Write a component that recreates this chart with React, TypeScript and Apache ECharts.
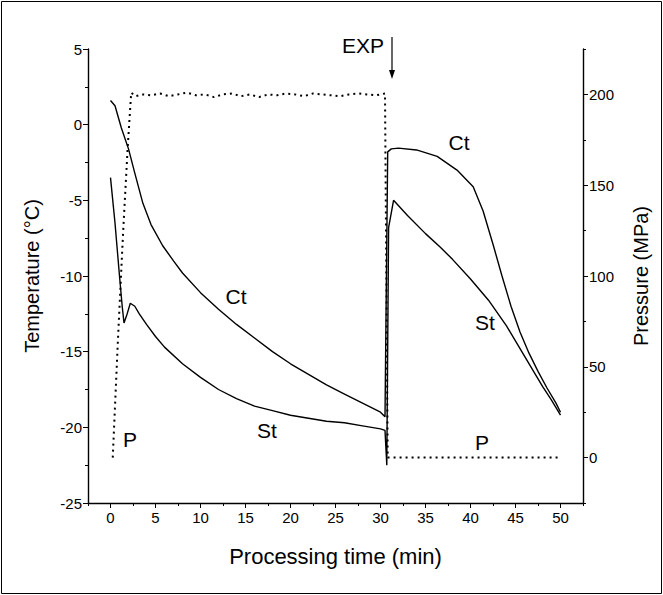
import React, { useEffect, useRef } from "react";
import * as echarts from "echarts";

const xTickValues = [0, 5, 10, 15, 20, 25, 30, 35, 40, 45, 50];
const pressureTickValues = [0, 50, 100, 150, 200];

const ctTime = [0, 0.5, 1.2, 2.0, 2.7, 3.6, 4.5, 5.8, 7, 8, 10, 12, 14, 16, 18, 20, 22, 24, 26, 28, 30, 30.5,
  30.8, 31.2, 32, 34, 36.3, 38.5, 40.3, 41.4, 42.5, 43.5, 44.5, 45.5, 46.5, 47.5, 48.5, 49.5, 50];
const ctTemp = [1.6, 1.25, -0.2, -1.6, -3.2, -5.2, -6.6, -8.0, -9.0, -9.8, -11.1, -12.2, -13.2, -14.1, -15.0, -15.8, -16.5, -17.2, -17.8, -18.4, -19.0, -19.3,
  -1.8, -1.6, -1.55, -1.67, -2.1, -3.0, -4.1, -5.7, -7.9, -10.0, -12.0, -13.7, -15.1, -16.3, -17.4, -18.4, -19.0];

const stTime = [0, 0.5, 1.0, 1.3, 1.5, 1.8, 2.2, 2.7, 3.2, 4, 5, 6, 8, 10, 12, 14, 16, 18, 20, 22, 24, 26, 28, 30, 30.5,
  30.7, 30.9, 31.45, 33, 35, 36.65, 38, 40, 42, 44, 46, 48, 49, 50];
const stTemp = [-3.5, -6.5, -10.0, -12.0, -13.1, -12.6, -11.8, -12.0, -12.5, -13.2, -14.0, -14.7, -15.8, -16.7, -17.5, -18.1, -18.6, -18.9, -19.2, -19.4, -19.6, -19.7, -19.9, -20.1, -20.2,
  -22.5, -6.8, -5.0, -6.0, -7.2, -8.1, -8.9, -10.2, -11.6, -13.3, -15.3, -17.3, -18.2, -19.2];

const pTime = [0.25, 0.8, 1.4, 1.9, 2.3, 2.8, 3.5, 4.5, 5.5, 6.5, 7.5, 8.5, 9.5, 10.5, 11.5, 12.5, 13.5, 14.5, 15.5,
  16.5, 17.5, 18.5, 19.5, 20.5, 21.5, 22.5, 23.5, 24.5, 25.5, 26.5, 27.5, 28.5, 29.5, 30.5, 30.8, 50];
const pPress = [0, 62, 124, 170, 201, 199, 200, 199.5, 200.5, 199, 200, 201, 199.5, 200, 198.5, 200, 200.5, 199, 200,
  198.5, 200, 199.5, 200.5, 200, 199, 200.5, 200, 199.5, 199, 200, 200.5, 200, 199.5, 200.5, 0, 0];

const FONT = "'Liberation Sans', Arial, sans-serif";
const BLACK = "#000";

const zip = (xs: number[], ys: number[]) => xs.map((x, i) => [x, ys[i]]);

export default function App() {
  const ref = useRef<HTMLDivElement>(null);
  useEffect(() => {
    document.body.style.margin = "0";
    const chart = echarts.init(ref.current!, null, { renderer: "svg" });
    const mkLine = () => ({ show: true, onZero: false, lineStyle: { color: BLACK, width: 1.4 } });
    const noLine = () => ({ show: false, onZero: false });
    const label = () => ({ color: BLACK, fontSize: 15, fontFamily: FONT });
    const option: any = {
      animation: false,
      backgroundColor: "#fff",
      grid: { left: 88, right: 80, top: 49, bottom: 92, containLabel: false },
      xAxis: [
        {
          type: "value", min: -2.5, max: 52.5, interval: 2.5, position: "bottom",
          axisLine: mkLine(), axisTick: { show: true, length: 3, lineStyle: { color: BLACK } },
          axisLabel: { show: false }, splitLine: { show: false },
        },
        {
          type: "value", min: -2.5, max: 52.5, position: "bottom", offset: 0,
          axisLine: noLine(),
          axisTick: { show: true, customValues: xTickValues, length: 5, lineStyle: { color: BLACK } },
          axisLabel: { ...label(), customValues: xTickValues, margin: 7 },
          splitLine: { show: false },
          name: "Processing time (min)", nameLocation: "middle", nameGap: 42,
          nameTextStyle: { color: BLACK, fontSize: 22, fontFamily: FONT },
        },
      ],
      yAxis: [
        {
          type: "value", min: -25, max: 5, interval: 5, position: "left",
          axisLine: mkLine(),
          axisTick: { show: true, length: 5, lineStyle: { color: BLACK } },
          minorTick: { show: true, splitNumber: 2, length: 3, lineStyle: { color: BLACK } },
          axisLabel: { ...label(), margin: 6 }, splitLine: { show: false }, minorSplitLine: { show: false },
          name: "Temperature (°C)", nameLocation: "middle", nameGap: 46, nameRotate: 90,
          nameTextStyle: { color: BLACK, fontSize: 20, fontFamily: FONT },
        },
        {
          type: "value", min: -25, max: 225, position: "right", offset: 0,
          axisLine: mkLine(), axisTick: { show: true, customValues: pressureTickValues, length: 5, lineStyle: { color: BLACK } },
          axisLabel: { ...label(), customValues: pressureTickValues, margin: 6 }, splitLine: { show: false },
          name: "Pressure (MPa)", nameLocation: "middle", nameGap: 48, nameRotate: 90,
          nameTextStyle: { color: BLACK, fontSize: 20, fontFamily: FONT },
        },
        {
          type: "value", min: -25, max: 225, interval: 25, position: "right", offset: 0,
          axisLine: noLine(), axisTick: { show: true, length: 3, lineStyle: { color: BLACK } },
          axisLabel: { show: false }, splitLine: { show: false },
        },
      ],
      series: [
        {
          name: "Ct", type: "line", xAxisIndex: 0, yAxisIndex: 0, data: zip(ctTime, ctTemp),
          showSymbol: false, lineStyle: { color: BLACK, width: 1.4 },
        },
        {
          name: "St", type: "line", xAxisIndex: 0, yAxisIndex: 0, data: zip(stTime, stTemp),
          showSymbol: false, lineStyle: { color: BLACK, width: 1.4 },
        },
        {
          name: "P", type: "line", xAxisIndex: 0, yAxisIndex: 1, data: zip(pTime, pPress),
          showSymbol: false, lineStyle: { color: BLACK, width: 2, type: [2, 4] },
        },
      ],
      graphic: [
        { type: "rect", shape: { x: 1.5, y: 1.5, width: 660, height: 592 }, style: { fill: "none", stroke: BLACK, lineWidth: 1 } },
        { type: "text", x: 384, y: 45, style: { text: "EXP", font: `21px ${FONT}`, fill: BLACK, align: "right", verticalAlign: "middle" } },
        { type: "line", shape: { x1: 392, y1: 37, x2: 392, y2: 74 }, style: { stroke: BLACK, lineWidth: 1.2 } },
        { type: "polygon", shape: { points: [[389, 70], [395, 70], [392, 79]] }, style: { fill: BLACK } },
        { type: "text", x: 459, y: 142, style: { text: "Ct", font: `21px ${FONT}`, fill: BLACK, align: "center", verticalAlign: "middle" } },
        { type: "text", x: 236, y: 296, style: { text: "Ct", font: `21px ${FONT}`, fill: BLACK, align: "center", verticalAlign: "middle" } },
        { type: "text", x: 267, y: 430, style: { text: "St", font: `21px ${FONT}`, fill: BLACK, align: "center", verticalAlign: "middle" } },
        { type: "text", x: 485, y: 322, style: { text: "St", font: `21px ${FONT}`, fill: BLACK, align: "center", verticalAlign: "middle" } },
        { type: "text", x: 130, y: 439, style: { text: "P", font: `21px ${FONT}`, fill: BLACK, align: "center", verticalAlign: "middle" } },
        { type: "text", x: 482, y: 442, style: { text: "P", font: `21px ${FONT}`, fill: BLACK, align: "center", verticalAlign: "middle" } },
      ],
    };
    chart.setOption(option);
    return () => chart.dispose();
  }, []);
  return <div ref={ref} style={{ width: 663, height: 595 }} />;
}
